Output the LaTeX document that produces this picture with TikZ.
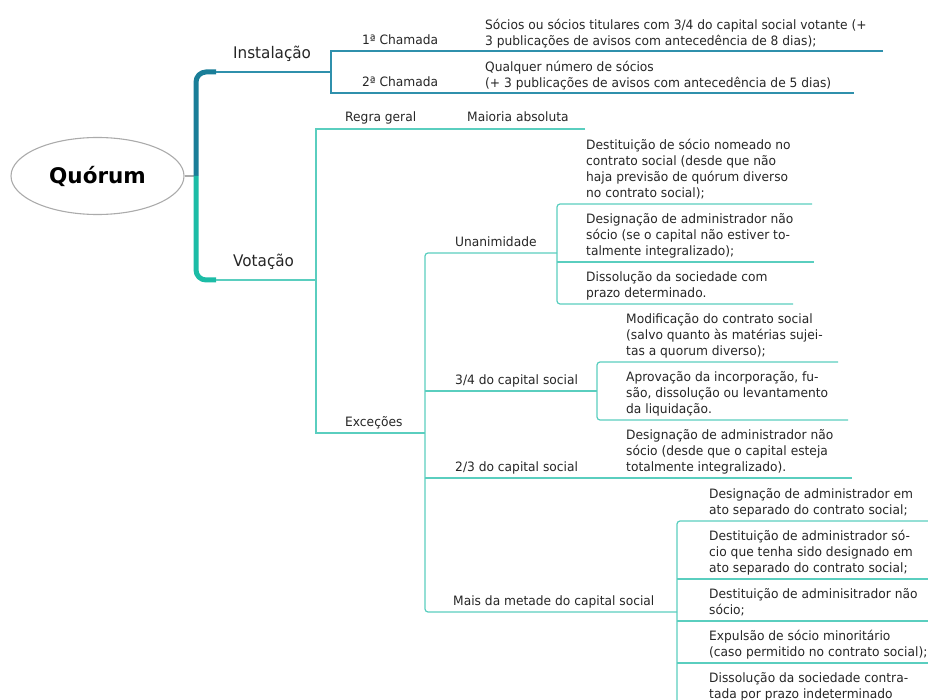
\documentclass[tikz,border=0pt]{standalone}
\usepackage{fontspec}
\setmainfont{DejaVu Sans}
\newfontfamily\narrowsans{DejaVu Sans}[FakeStretch=0.95]
\usetikzlibrary{shapes.geometric}
\definecolor{ink}{HTML}{262626}
\definecolor{rimgray}{HTML}{ABABAB}
\definecolor{barblue}{HTML}{1A7E98}
\definecolor{bargreen}{HTML}{1CBCA6}
\definecolor{linkblue}{HTML}{2F90AC}
\definecolor{linkgreen}{HTML}{5ACEBF}

\begin{document}
\begin{tikzpicture}[x=1pt,y=-1pt,
  small/.style={font=\narrowsans\fontsize{12.9}{16}\selectfont, text=ink, inner sep=0pt, anchor=base west, align=left},
  big/.style={font=\narrowsans\fontsize{16}{18}\selectfont, text=ink, inner sep=0pt, anchor=base west},
  instline/.style={draw=linkblue, line width=1.2pt},
  votline/.style={draw=linkgreen, line width=1.2pt},
  bracket/.style={rounded corners=3pt},
  trunk/.style={line width=5pt, rounded corners=10pt},
]
\useasboundingbox (0,0) rectangle (928,700);

% ---------- root ----------
% (multi-line nodes below are placed by the baseline of their last line)
\node[draw=rimgray, line width=1.1pt, ellipse, inner sep=0pt,
      minimum width=173pt, minimum height=77pt,
      font=\fontsize{21.5}{24}\selectfont\bfseries, text=black] (root) at (97.5,176) {Quórum};
\coordinate (hub) at (196,176);
\draw[rimgray, line width=1.1pt] (root.east) -- (hub);

% ---------- trunk ----------
\coordinate (instStart) at (216,72);
\coordinate (votStart) at (216,280);
\draw[trunk, barblue] (hub) |- (instStart);
\draw[trunk, bargreen] (hub) |- (votStart);

% ---------- Instalação ----------
\node[big] (inst) at (233,59) {Instalação};
\coordinate (instJ) at (331,72);
\coordinate (ch1L) at (331,51);
\coordinate (ch1R) at (883,51);
\coordinate (ch2L) at (331,93);
\coordinate (ch2R) at (854,93);
\draw[instline] (instStart) -- (instJ);
\draw[instline] (ch1R) -- (ch1L) -- (ch2L) -- (ch2R);

\node[small] (ch1) at (362,45) {1ª Chamada};
\node[small] (ch2) at (362,87) {2ª Chamada};
\node[small] (ch1t) at (485,45.5) {Sócios ou sócios titulares com 3/4 do capital social votante (+\\3 publicações de avisos com antecedência de 8 dias);};
\node[small] (ch2t) at (485,87.5) {Qualquer número de sócios\\(+ 3 publicações de avisos com antecedência de 5 dias)};

% ---------- Votação ----------
\node[big] (vot) at (233,267) {Votação};
\coordinate (votJ) at (316,280);
\coordinate (regL) at (316,129);
\coordinate (regR) at (585,129);
\coordinate (excL) at (316,433);
\coordinate (excJ) at (425,433);
\draw[votline] (votStart) -- (votJ);
\draw[votline] (regR) -- (regL) -- (excL) -- (excJ);

\node[small] (regra) at (345,122) {Regra geral};
\node[small] (maioria) at (467,122) {Maioria absoluta};
\node[small] (exc) at (345,426.5) {Exceções};

% ---------- Exceções ----------
\coordinate (unJ) at (557,253);
\coordinate (unL) at (425,253);
\coordinate (maisL) at (425,612);
\coordinate (maisJ) at (677,612);
\coordinate (tqL) at (425,391);
\coordinate (tqJ) at (597,391);
\coordinate (dtL) at (425,478);
\coordinate (dtR) at (852,478);
\draw[votline, bracket] (unJ) -- (unL) -- (maisL) -- (maisJ);
\draw[votline] (tqL) -- (tqJ);
\draw[votline] (dtL) -- (dtR);

\node[small] (unan) at (455,246.5) {Unanimidade};
\node[small] (tq) at (455,384) {3/4 do capital social};
\node[small] (dt) at (455,471.5) {2/3 do capital social};
\node[small] (mais) at (453,605.5) {Mais da metade do capital social};

% ---------- Unanimidade ----------
\draw[votline, bracket] (812,204) -- (557,204) -- (557,304) -- (793,304);
\draw[votline] (557,262) -- (814,262);
\node[small] (u1) at (586,197.5) {Destituição de sócio nomeado no\\contrato social (desde que não\\haja previsão de quórum diverso\\no contrato social);};
\node[small] (u2) at (586,255.5) {Designação de administrador não\\sócio (se o capital não estiver to-\\talmente integralizado);};
\node[small] (u3) at (586,297.5) {Dissolução da sociedade com\\prazo determinado.};

% ---------- 3/4 do capital social ----------
\draw[votline, bracket] (838,362) -- (tqJ |- 0,362) -- (tqJ |- 0,420) -- (848,420);
\node[small] (tq1) at (626,355.5) {Modificação do contrato social\\(salvo quanto às matérias sujei-\\tas a quorum diverso);};
\node[small] (tq2) at (626,413.5) {Aprovação da incorporação, fu-\\são, dissolução ou levantamento\\da liquidação.};

% ---------- 2/3 do capital social ----------
\node[small] (dt1) at (626,471.5) {Designação de administrador não\\sócio (desde que o capital esteja\\totalmente integralizado).};

% ---------- Mais da metade do capital social ----------
\draw[votline, bracket] (932,521) -- (677,521) -- (677,712);
\draw[votline] (677,579) -- (932,579);
\draw[votline] (677,621) -- (932,621);
\draw[votline] (677,663) -- (932,663);
\node[small] (m1) at (709,514.5) {Designação de administrador em\\ato separado do contrato social;};
\node[small] (m2) at (709,572.5) {Destituição de administrador só-\\cio que tenha sido designado em\\ato separado do contrato social;};
\node[small] (m3) at (709,614.5) {Destituição de adminisitrador não\\sócio;};
\node[small] (m4) at (709,656.5) {Expulsão de sócio minoritário\\(caso permitido no contrato social);};
\node[small] (m5) at (709,698.5) {Dissolução da sociedade contra-\\tada por prazo indeterminado};
\end{tikzpicture}
\end{document}
